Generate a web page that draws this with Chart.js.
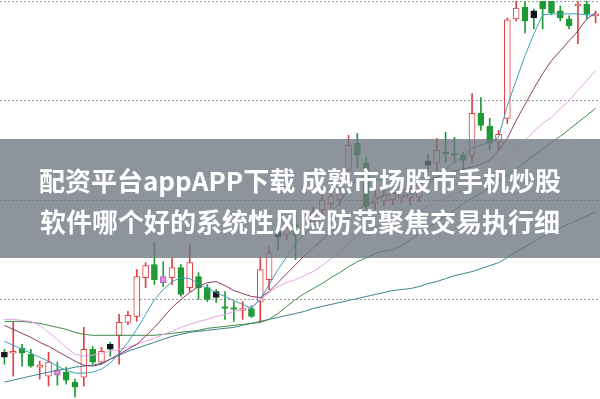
<!DOCTYPE html>
<html>
<head>
<meta charset="utf-8">
<script src="https://cdn.jsdelivr.net/npm/chart.js@4/dist/chart.umd.min.js"></script>
<style>
  html, body { margin: 0; padding: 0; background: #fff; }
  #wrap { position: relative; width: 600px; height: 399px; overflow: hidden; }
  #banner { position: absolute; left: 0; top: 139px; width: 600px; height: 119px; background: rgba(110,118,128,0.78); }
  .line { position: absolute; left: 0; width: 600px; text-align: center; color: #fff; font-family: "Noto Sans CJK SC", "Noto Sans", sans-serif; font-weight: bold; font-size: 26px; line-height: 26px; white-space: nowrap; }
</style>
</head>
<body>
<div id="wrap">
  <canvas id="c" width="600" height="399"></canvas>
  <div id="banner"></div>
  <div class="line" style="top:167px">配资平台appAPP下载 成熟市场股市手机炒股</div>
  <div class="line" style="top:208px">软件哪个好的系统性风险防范聚焦交易执行细</div>
</div>
<script>
const days = ["1","2","3","4","5","6","7","8","9","10","11","12","13","14","15","16","17","18","19","20","21","22","23","24","25","26","27","28","29","30","31","32","33","34","35","36","37","38","39","40","41","42","43","44","45","46","47","48","49","50","51","52","53","54","55","56","57","58","59","60","61","62","63","64","65","66","67","68"];

const openP  = [9.47,9.46,9.51,9.45,9.32,9.23,9.29,9.27,9.17,9.22,9.50,9.37,9.55,9.64,9.77,9.83,10.22,10.35,10.23,10.22,10.32,10.12,10.23,10.12,10.08,9.93,9.92,9.89,9.91,9.98,10.20,10.68,10.65,10.75,10.72,10.78,10.90,10.96,11.00,11.30,11.57,11.37,10.97,10.99,11.00,11.02,11.02,11.03,11.39,11.37,11.48,11.47,11.45,11.45,11.87,11.74,11.58,11.82,12.82,12.94,12.90,13.00,13.00,12.90,12.82,12.95,12.97,12.85];
const highP  = [9.50,9.78,9.55,9.50,9.38,9.47,9.37,9.32,9.20,9.72,9.53,9.52,9.57,9.85,9.88,10.30,10.37,10.58,10.38,10.42,10.35,10.55,10.27,10.15,10.10,10.08,9.98,9.98,9.94,10.42,10.53,10.72,10.78,10.87,10.88,10.93,11.05,11.10,11.17,11.65,11.67,11.43,11.10,11.10,11.12,11.13,11.12,11.14,11.47,11.62,11.68,11.63,11.48,12.07,12.03,11.82,11.70,12.83,13.00,13.00,12.92,13.00,13.00,12.95,12.85,13.00,13.00,12.90];
const lowP   = [9.35,9.23,9.33,9.32,9.20,9.13,9.14,9.15,9.02,9.13,9.35,9.35,9.43,9.35,9.75,9.78,10.12,10.15,10.13,10.15,10.03,10.08,10.00,9.98,9.97,9.80,9.78,9.80,9.82,9.77,10.10,10.50,10.60,10.40,10.68,10.72,10.85,10.92,10.95,11.15,11.33,10.90,10.90,10.94,10.95,10.97,10.95,10.98,11.28,11.30,11.38,11.37,11.28,11.38,11.70,11.50,11.50,11.77,12.80,12.68,12.72,12.72,12.86,12.80,12.72,12.57,12.82,12.78];
const closeP = [9.42,9.48,9.46,9.33,9.34,9.37,9.24,9.19,9.12,9.50,9.37,9.48,9.50,9.77,9.84,10.23,10.34,10.20,10.17,10.32,10.05,10.37,10.12,10.00,10.02,9.91,9.90,9.91,9.83,10.30,10.47,10.63,10.72,10.65,10.82,10.88,11.00,11.04,11.10,11.55,11.45,10.94,11.03,11.05,11.07,11.08,11.08,11.10,11.35,11.50,11.46,11.45,11.40,11.87,11.75,11.57,11.66,12.81,12.93,12.80,12.83,12.92,12.88,12.83,12.75,12.97,12.87,12.87];

const darkMarks = [0,12,24,31,48,60];
const pinkMarks = [6,18];

const ma5  = [9.58,9.54,9.50,9.46,9.42,9.38,9.33,9.29,9.26,9.26,9.27,9.30,9.36,9.46,9.57,9.70,9.85,10.00,10.10,10.18,10.22,10.21,10.16,10.11,10.07,10.03,9.99,9.95,9.91,10.00,10.15,10.30,10.43,10.56,10.66,10.74,10.82,10.88,10.97,11.11,11.21,11.24,11.21,11.19,11.12,11.04,11.06,11.09,11.15,11.23,11.31,11.38,11.44,11.52,11.55,11.58,11.63,11.95,12.20,12.45,12.67,12.86,12.87,12.87,12.87,12.87,12.86,12.86];
const ma10 = [9.74,9.70,9.66,9.62,9.57,9.53,9.48,9.43,9.38,9.34,9.33,9.35,9.40,9.45,9.50,9.55,9.63,9.72,9.82,9.92,10.00,10.07,10.13,10.17,10.18,10.14,10.09,10.06,10.03,10.02,10.08,10.17,10.26,10.35,10.44,10.52,10.60,10.68,10.76,10.83,10.90,10.95,11.00,11.04,11.07,11.09,11.12,11.16,11.20,11.23,11.26,11.29,11.31,11.33,11.36,11.40,11.50,11.62,11.80,11.96,12.12,12.27,12.40,12.50,12.60,12.70,12.82,12.88];
const ma20 = [9.80,9.80,9.79,9.78,9.74,9.67,9.60,9.52,9.45,9.43,9.44,9.46,9.48,9.50,9.52,9.55,9.58,9.61,9.65,9.68,9.72,9.75,9.78,9.80,9.83,9.85,9.88,9.90,9.93,10.00,10.07,10.13,10.17,10.20,10.24,10.28,10.34,10.41,10.48,10.57,10.64,10.69,10.73,10.76,10.80,10.84,10.87,10.89,10.93,10.98,11.02,11.06,11.10,11.15,11.20,11.25,11.30,11.41,11.50,11.60,11.69,11.77,11.83,11.92,12.00,12.10,12.20,12.30];
const ma30 = [9.78,9.78,9.78,9.77,9.76,9.74,9.72,9.70,9.67,9.65,9.64,9.64,9.64,9.64,9.64,9.64,9.64,9.64,9.65,9.66,9.67,9.68,9.69,9.71,9.72,9.73,9.74,9.75,9.76,9.77,9.80,9.86,9.93,10.00,10.06,10.11,10.16,10.22,10.27,10.33,10.38,10.42,10.46,10.49,10.50,10.54,10.60,10.66,10.72,10.78,10.84,10.90,10.96,11.02,11.07,11.13,11.19,11.25,11.31,11.38,11.45,11.51,11.58,11.64,11.71,11.78,11.85,11.92];
const ma60 = [9.17,9.19,9.21,9.23,9.25,9.27,9.29,9.30,9.32,9.33,9.34,9.36,9.40,9.44,9.48,9.51,9.54,9.57,9.60,9.63,9.65,9.67,9.68,9.69,9.70,9.71,9.72,9.74,9.76,9.78,9.80,9.82,9.84,9.86,9.88,9.91,9.93,9.95,9.97,9.99,10.01,10.03,10.05,10.07,10.09,10.10,10.11,10.13,10.16,10.18,10.21,10.24,10.26,10.28,10.31,10.34,10.37,10.42,10.48,10.53,10.58,10.63,10.68,10.72,10.76,10.80,10.84,10.88];

const priceTicks = [9, 10, 11, 12, 13];

const RED = '#e0403e', GREEN = '#1f9a35';
const isUp = days.map((_, i) => closeP[i] >= openP[i]);
const wickColors = isUp.map(u => u ? RED : GREEN);
const bodyFill = days.map((_, i) => {
  if (darkMarks.includes(i)) return '#151520';
  if (pinkMarks.includes(i)) return '#d890dc';
  return isUp[i] ? '#ffffff' : GREEN;
});
const bodyBorder = days.map((_, i) => {
  if (darkMarks.includes(i)) return '#151520';
  if (pinkMarks.includes(i)) return '#b060b8';
  return isUp[i] ? RED : GREEN;
});

function maLine(data, color, order) {
  return { type: 'line', data, borderColor: color, borderWidth: 1, pointRadius: 0, tension: 0, fill: false, order, spanGaps: true };
}

new Chart(document.getElementById('c'), {
  type: 'bar',
  data: {
    labels: days,
    datasets: [
      maLine(ma60, '#3e8090', 5),
      maLine(ma30, '#3f8a45', 4),
      maLine(ma20, '#e8a2ea', 3),
      maLine(ma10, '#8a3a6a', 2),
      maLine(ma5, '#3aa2b4', 1),
      { type: 'bar', data: days.map((_, i) => [openP[i], closeP[i]]), backgroundColor: bodyFill, borderColor: bodyBorder, borderWidth: 1, borderSkipped: false, barThickness: 6, grouped: false, order: 10 },
      { type: 'bar', data: days.map((_, i) => [lowP[i], highP[i]]), backgroundColor: wickColors, borderWidth: 0, barThickness: 1, grouped: false, order: 11 }
    ]
  },
  options: {
    responsive: false,
    animation: false,
    layout: { padding: { top: 1, bottom: 0, left: 0, right: 0 } },
    plugins: { legend: { display: false }, tooltip: { enabled: false } },
    scales: {
      x: { display: false, offset: true },
      y: {
        min: 9, max: 13,
        afterBuildTicks: ax => { ax.ticks = priceTicks.map(v => ({ value: v })); },
        ticks: { display: false },
        border: { display: false, dash: [2, 2] },
        grid: { color: '#9a9a9a', lineWidth: 1, drawTicks: false, tickLength: 0 },
        afterFit: ax => { ax.width = 0; }
      }
    }
  }
});
</script>
</body>
</html>
